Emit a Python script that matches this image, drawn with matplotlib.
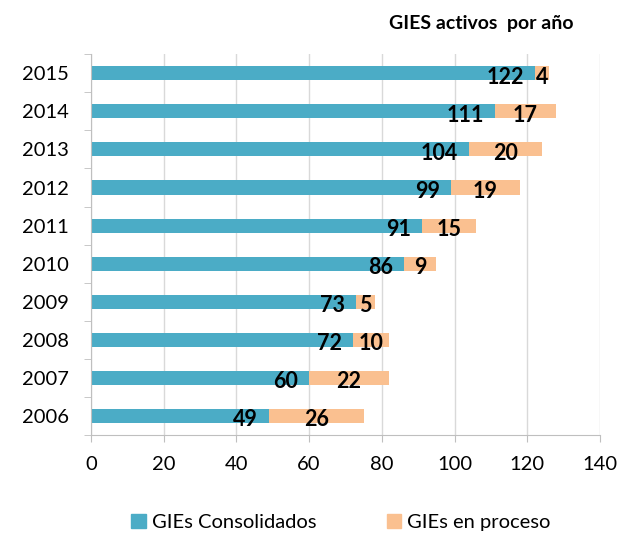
import matplotlib
matplotlib.use("Agg")
from matplotlib import pyplot as plt
from matplotlib.patches import Patch
import numpy as np

plt.rcParams['font.family'] = ['Lato', 'DejaVu Sans']

# datos
years = ["2006", "2007", "2008", "2009", "2010", "2011", "2012", "2013", "2014", "2015"]
consolidados = [49, 60, 72, 73, 86, 91, 99, 104, 111, 122]
en_proceso = [26, 22, 10, 5, 9, 15, 19, 20, 17, 4]

c_cons = "#4BACC6"
c_proc = "#FAC090"

fig = plt.figure(figsize=(6.31, 5.36), dpi=100)
ax = fig.add_axes([0.144, 0.188, 0.807, 0.711])

y = np.arange(len(years))
h = 0.37
ax.barh(y, consolidados, height=h, color=c_cons, zorder=2)
ax.barh(y, en_proceso, left=consolidados, height=h, color=c_proc, zorder=2)

# etiquetas
for i in range(len(years)):
    ax.text(consolidados[i] - 3, y[i] - 0.1, str(consolidados[i]), ha="right", va="center",
            fontsize=15.5, fontweight="bold", zorder=3)
    ax.text(consolidados[i] + en_proceso[i] / 2, y[i] - 0.1, str(en_proceso[i]), ha="center",
            va="center", fontsize=15.5, fontweight="bold", zorder=3)

ax.set_xlim(0, 140)
ax.set_ylim(-0.5, 9.5)
ax.set_xticks(range(0, 141, 20))
ax.set_yticks(y)
ax.set_yticklabels(years)
ax.set_yticks(np.arange(-0.5, 10, 1), minor=True)
ax.tick_params(axis="y", which="major", length=0, labelsize=14.5, pad=16)
ax.tick_params(axis="y", which="minor", length=5, color="#BFBFBF")
ax.tick_params(axis="x", length=5, color="#BFBFBF", labelsize=14.5, pad=10)
ax.grid(axis="x", color="#D9D9D9", linewidth=1, zorder=0)
for s in ["top", "right"]:
    ax.spines[s].set_visible(False)
ax.spines["left"].set_color("#BFBFBF")
ax.spines["bottom"].set_color("#BFBFBF")

fig.text(0.762, 0.957, "GIES activos  por año", ha="center", va="center", fontsize=14, fontweight="bold")

handles = [Patch(color=c_cons, label="GIEs Consolidados"), Patch(color=c_proc, label="GIEs en proceso")]
fig.legend(handles=handles, loc="center", bbox_to_anchor=(0.54, 0.025), ncol=2, frameon=False,
           fontsize=14.5, handlelength=0.7, handleheight=0.7, columnspacing=3.5, handletextpad=0.3)

plt.savefig("out.png", dpi=100)
